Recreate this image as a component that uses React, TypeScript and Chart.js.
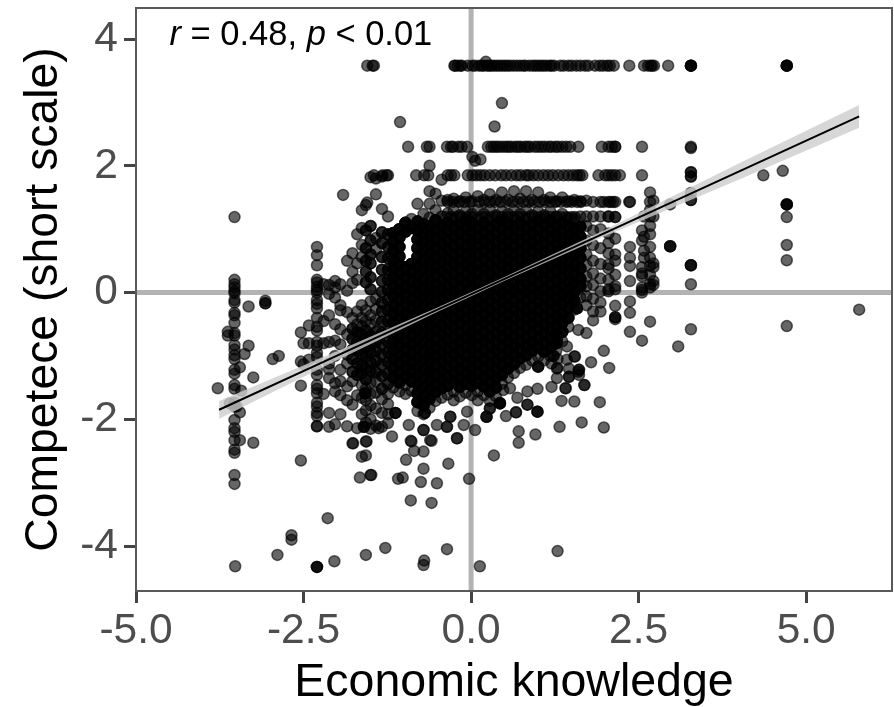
import React, { useEffect, useRef } from "react";
import { Chart, registerables } from "chart.js";

Chart.register(...registerables);

const X_TICK_STEP = 2.5;
const Y_TICK_STEP = 2;
const X_TITLE = "Economic knowledge";
const Y_TITLE = "Competece (short scale)";

// Columns: first number is x, the rest are y values at that x.
const farLeftColumns: number[][] = [
  [-3.53, .2, .13, .08, .02, -.01, -.12, -.16, -.32, -.36, -.48, -.64, -.68, -.83, -.9, -.99, -1.05, -1.22, -1.28, -1.46, -1.52, -1.74, -1.8, -2.01, -2.14, -2.2, -2.33, -2.48, -2.53, -2.88, -3.02, 1.19],
  [-3.32, -.22, -.84], [-3.07, -.17, -.17, -.13], [-3.63, -.62, -.68], [-3.38, -.97], [-2.96, -1.05], [-2.87, -1.0],
  [-3.45, -1.18, -1.89, -2.33], [-3.43, -1.55], [-3.25, -1.34, -2.37], [-3.78, -1.51], [-3.6, -1.75], [-3.5, -1.8],
  [-2.3, .72, .59, .43, .2, .16, .09, .04, 0, -.12, -.18, -.25, -.4, -.54, -.6, -.78, -.84, -.95, -1.02, -1.22, -1.3, -1.46, -1.52, -1.59, -1.74, -1.8, -1.9, -1.95, -2.11, -2.11],
  [-2.54, -.63, -1.09, -1.47, -2.65], [-2.5, -.8, -1.13], [-2.42, -1.06, -.8, -.52], [-2.2, -.8, -.45, .13, -1.6],
];

const leftColumns: number[][] = [
  [-2.12, .12, -.02, -.36, -.78, -1.12, -1.21, -1.35, -1.9, -2.12], [-2.03, .08, .18, -.08, -.5, -.76, -1.0, -1.43, -1.56, -2.08],
  [-1.95, .13, -.2, -.28, -.58, -.82, -1.22, -1.4, -1.62, -1.92], [-1.85, .5, .03, -.31, -.66, -.98, -1.12, -1.48, -1.7, -2.11],
  [-1.77, 0.15, .62, .33, -.4, -.57, -.73, -.9, -1.05, -1.25, -1.4, -1.77, -2.38], [-1.7, .92, .46, .2, -.3, -.5, -.63, -.78, -.92, -1.12, -1.3, -1.62, -2.14],
  [-1.63, 1.3, 1.02, .75, .56, -.2, -.4, -.53, -.66, -.8, -.97, -1.15, -1.28, -1.46, -1.66, -1.92, -2.59],
  [-1.57, 1.38, .98, .7, .5, .33, .16, -.28, -.45, -.6, -.72, -.86, -1.02, -1.2, -1.37, -1.52, -1.7, -1.86, -2.05, -2.35, -2.57],
  [-1.5, 1.82, 1.05, .82, .6, .46, .24, .05, -.14, -.36, -.5, -.68, -.82, -.94, -1.1, -1.24, -1.42, -1.6, -1.78, -2.0, -2.15, -2.88],
  [-1.42, 1.8, 1.55, .86, .68, -.1, -.26, -.44, -.62, -.78, -.92, -1.08, -1.26, -1.4, -1.58, -1.83, -2.1],
  [-1.33, 1.83, 1.32, .95, .78, .56, .36, .18, .01, -.16, -.3, -.46, -.64, -.82, -.98, -1.14, -1.32, -1.52, -1.68, -1.9, -2.12],
  [-1.24, 1.85, 1.2, .92, .72, .54, .36, .2, .04, -.12, -.28, -.45, -.62, -.78, -.94, -1.1, -1.28, -1.44, -1.6, -1.76, -1.92, -2.06],
];

const coreColumns: number[][] = [
  [-1.16, .94, .8, .66, .52, .37, .24, .1, -.05, -.2, -.33, -.47, -.63, -.77, -.92, -1.06, -1.2, -1.34, -1.5, -1.63, -1.78, -1.93],
  [-1.07, 1.0, .87, .72, .57, .44, .29, .15, .02, -.13, -.28, -.41, -.55, -.7, -.84, -.99, -1.13, -1.27, -1.42, -1.56, -1.7, -1.84, -2.0],
  [-.98, 1.1, .96, .4, .25, .1, -.03, -.17, -.32, -.46, -.6, -.75, -.89, -1.03, -1.17, -1.32, -1.46, -1.6, -1.74, -1.88],
  [-.89, 1.16, 1.02, .45, .31, .16, .03, -.12, -.26, -.4, -.55, -.69, -.83, -.98, -1.12, -1.26, -1.4, -1.55, -1.69, -1.83, -1.97, -2.1],
  [-.8, 1.4, 1.12, .98, .84, .7, .56, .41, .27, .13, -.02, -.16, -.3, -.45, -.59, -.73, -.87, -1.02, -1.16, -1.3, -1.44, -1.59, -1.73, -1.87, -2.0],
  [-.71, 1.24, 1.08, .94, .8, .65, .51, .37, .22, .08, -.06, -.21, -.35, -.49, -.64, -.78, -.92, -1.06, -1.21, -1.35, -1.49, -1.64, -1.78, -1.92, -2.06, -2.18],
  [-.62, 1.6, 1.4, 1.18, 1.04, .9, .75, .61, .47, .33, .18, .04, -.1, -.25, -.39, -.53, -.67, -.82, -.96, -1.1, -1.25, -1.39, -1.53, -1.68, -1.82, -1.96, -2.1],
  [-.53, 1.56, 1.3, 1.14, 1.0, .86, .72, .57, .43, .29, .14, 0, -.14, -.28, -.43, -.57, -.71, -.86, -1.0, -1.14, -1.29, -1.43, -1.57, -1.71, -1.86, -2.0, -2.14],
  [-.44, 1.78, 1.45, 1.2, 1.06, .92, .77, .63, .49, .35, .2, .06, -.08, -.23, -.37, -.51, -.66, -.8, -.94, -1.08, -1.23, -1.37, -1.51, -1.66, -1.8, -1.94, -2.08, -2.22],
  [-.35, 1.46, 1.25, 1.1, .96, .82, .67, .53, .39, .25, .1, -.04, -.18, -.33, -.47, -.61, -.76, -.9, -1.04, -1.19, -1.33, -1.47, -1.61, -1.76, -1.9, -2.04, -2.16],
  [-.26, 1.48, 1.3, 1.16, 1.02, .88, .73, .59, .45, .3, .16, .02, -.12, -.27, -.41, -.55, -.7, -.84, -.98, -1.13, -1.27, -1.41, -1.56, -1.7, -1.84, -1.98, -2.12, -2.2],
  [-.17, 1.44, 1.22, 1.08, .94, .8, .65, .51, .37, .22, .08, -.06, -.21, -.35, -.49, -.64, -.78, -.92, -1.06, -1.21, -1.35, -1.49, -1.64, -1.78, -1.92, -2.06, -2.14],
  [-.08, 1.5, 1.28, 1.14, 1.0, .85, .71, .57, .42, .28, .14, -.01, -.15, -.29, -.43, -.58, -.72, -.86, -1.01, -1.15, -1.29, -1.44, -1.58, -1.72, -1.87, -2.01, -2.18],
  [.01, 1.44, 1.24, 1.1, .96, .82, .67, .53, .39, .24, .1, -.04, -.19, -.33, -.47, -.62, -.76, -.9, -1.05, -1.19, -1.33, -1.47, -1.62, -1.76, -1.9, -2.05],
  [.1, 1.52, 1.3, 1.16, 1.02, .87, .73, .59, .44, .3, .16, .01, -.13, -.27, -.42, -.56, -.7, -.84, -.99, -1.13, -1.27, -1.42, -1.56, -1.7, -1.85, -1.99],
  [.19, 1.46, 1.24, 1.1, .95, .81, .67, .53, .38, .24, .1, -.05, -.19, -.33, -.48, -.62, -.76, -.91, -1.05, -1.19, -1.33, -1.48, -1.62, -1.76, -1.91],
  [.28, 1.55, 1.3, 1.15, 1.01, .87, .73, .58, .44, .3, .15, .01, -.13, -.28, -.42, -.56, -.71, -.85, -.99, -1.13, -1.28, -1.42, -1.56, -1.71, -1.85, -1.98],
  [.37, 1.46, 1.22, 1.08, .94, .79, .65, .51, .36, .22, .08, -.07, -.21, -.35, -.49, -.64, -.78, -.92, -1.07, -1.21, -1.35, -1.5, -1.64, -1.78, -1.93],
  [.46, 1.58, 1.28, 1.14, 1.0, .85, .71, .57, .42, .28, .14, -.01, -.15, -.29, -.44, -.58, -.72, -.87, -1.01, -1.15, -1.3, -1.44, -1.58, -1.74, -1.9],
  [.55, 1.46, 1.24, 1.09, .95, .81, .66, .52, .38, .24, .09, -.05, -.19, -.34, -.48, -.62, -.77, -.91, -1.05, -1.2, -1.34, -1.48, -1.63, -1.8],
  [.64, 1.6, 1.3, 1.16, 1.02, .87, .73, .59, .45, .3, .16, .02, -.13, -.27, -.41, -.56, -.7, -.84, -.99, -1.13, -1.27, -1.42, -1.56, -1.72],
  [.73, 1.48, 1.24, 1.1, .96, .82, .67, .53, .39, .24, .1, -.04, -.19, -.33, -.47, -.62, -.76, -.9, -1.04, -1.19, -1.33, -1.47, -1.63],
  [.82, 1.6, 1.3, 1.16, 1.01, .87, .73, .58, .44, .3, .15, .01, -.13, -.28, -.42, -.56, -.71, -.85, -.99, -1.14, -1.28, -1.42, -1.56],
  [.91, 1.46, 1.22, 1.08, .94, .79, .65, .51, .37, .22, .08, -.06, -.21, -.35, -.49, -.64, -.78, -.92, -1.07, -1.21, -1.35, -1.46],
  [1.0, 1.58, 1.28, 1.14, .99, .85, .71, .56, .42, .28, .13, -.01, -.15, -.3, -.44, -.58, -.73, -.87, -1.01, -1.16, -1.3],
  [1.09, 1.46, 1.22, 1.08, .93, .79, .65, .5, .36, .22, .07, -.07, -.21, -.36, -.5, -.64, -.79, -.93, -1.07, -1.2],
  [1.18, 1.5, 1.28, 1.13, .99, .85, .7, .56, .42, .27, .13, -.01, -.16, -.3, -.44, -.59, -.73, -.87, -1.0],
  [1.27, 1.44, 1.2, 1.06, .92, .77, .63, .49, .34, .2, .06, -.09, -.23, -.37, -.52, -.66, -.8, -.92],
  [1.36, 1.5, 1.24, 1.1, .95, .81, .67, .52, .38, .24, .09, -.05, -.19, -.34, -.48, -.62, -.77],
  [1.45, 1.44, 1.18, 1.04, .89, .75, .61, .46, .32, .18, .03, -.11, -.25, -.4, -.54, -.68],
  [1.54, 1.46, 1.16, 1.02, .87, .73, .59, .44, .3, .16, .01, -.13, -.27, -.42],
  [1.63, 1.44, 1.2, 1.04, .88, .7, .55, .38, .22, .1, -.08, -.24],
];

// Lowest y of the solid part of each core column, same order as coreColumns.
const coreFloors = [-1.6, -1.65, -1.6, -1.65, -1.9, -2.0, -1.95, -1.8, -1.7, -1.7, -1.7, -1.7, -1.65, -1.65, -1.7, -1.75, -1.8, -1.7, -1.55, -1.45, -1.4, -1.3, -1.25, -1.2, -1.15, -1.1, -1.05, -1.0, -.8, -.55, -.35, -.2];

// Individually read marks around the lower and right edge of the cloud.
const fringePoints: number[][] = [
  [-1.76, -2.38], [-1.56, -2.35], [-1.38, -2.14], [-1.18, -2.27], [-.93, -2.09], [-.89, -2.35], [-.61, -2.33], [-.21, -2.3], [-.06, -1.88], [.06, -2.17],
  [.48, -1.54], [.58, -1.51], [1.28, -1.2], [1.43, -1.06], [1.55, -1.01], [1.6, -1.25], [1.6, -.59],
  [.23, -1.96], [.23, -1.96], [.23, -1.96], [.28, -1.83], [.28, -1.83], [.43, -1.75], [.43, -1.75], [.43, -1.75], [1.0, -1.17], [1.0, -1.17], [1.0, -1.17],
  [1.28, -.75], [1.28, -.75], [1.43, -.85], [1.23, -1.0], [1.23, -1.0], [-.71, -2.17], [-.71, -2.17], [-.31, -1.96], [-.31, -1.96], [-.36, -2.12], [-.36, -2.12],
  [-.11, -2.09], [-1.6, -2.12], [-1.6, -2.12], [-1.6, -2.12], [-1.13, -1.9], [-1.13, -1.9], [-1.13, -1.9], [-.69, -1.9], [-.69, -1.9], [-.51, -2.09],
  [-1.58, -1.59], [-1.58, -1.59], [-1.58, -1.59], [1.58, -.25], [1.58, -.25], [1.58, -.25],
];

const rightColumns: number[][] = [
  [1.72, 1.45, 1.2, 1.05, .82, .6, .43, .25, .1, -.06, -.2, -.64], [1.82, 1.43, 1.2, .98, .75, .5, .3, .12, -.1, -.3, -.44],
  [1.93, 1.43, 1.2, 1.0, .7, .45, .22, .02, -.16, -.3], [2.05, 1.43, 1.2, 1.2, .93, .78, .62, .44, .38, .2, .05, .02],
  [2.15, 1.43, 1.19, 1.19, .85, .6, .5, .28, .1, .05, -.21, -.39, -.39, -.42],
  [2.37, 1.43, .72, .55, .42, .18, -.14, -.32, -.62], [2.58, 1.2, .88, .66, .55], [2.67, 1.58, 1.43, 1.3, 1.2, 1.05, .92, .72, .55, .42, .28, .13, .08, -.46],
  [2.55, .98, .82, .4, .3, .26, .08, .04, .0, -.76], [2.72, 1.45, 1.2, .46, .4, .18, .12], [2.97, .73, .73, .73, 1.39], [3.28, 2.28, 1.9, 1.9, 1.83, 1.83, 1.57, 1.46, 1.46, .43, .43, .43, .13, -.58],
  [4.71, 3.58, 3.58, 3.58, 3.58, 1.39, 1.39, 1.39, 1.39, 1.19, .75, .51, -.53], [4.36, 1.85], [4.65, 1.92], [5.79, -.27], [3.09, -.85],
  [2.06, -1.19], [1.98, -.92, -2.13], [1.79, -1.1], [1.92, -1.73], [1.69, -1.46, -1.46], [1.65, -2.05], [1.61, -1.22, -1.22, -1.3],
  [1.54, -1.01, -1.72], [1.46, -1.33, -1.33, -1.2], [1.41, -1.51, -1.51], [1.35, -1.71], [1.32, -2.12], [1.29, -1.19, -1.05, -4.08], [1.28, -1.35], [1.2, -1.49, -1.12],
  [.99, -1.52, -1.88, -1.88, -1.88], [.96, -2.24], [.84, -1.77, -1.77, -1.56], [.71, -2.19, -2.37], [.69, -1.66], [.67, -1.89, -1.89], [.52, -1.95],
  [.43, -1.74], [.34, -2.57],
];

const lowerPoints: number[][] = [
  [-3.52, -4.32], [-2.89, -4.14], [-2.68, -3.83, -3.9], [-2.14, -3.56], [-2.3, -4.33, -4.33, -4.33], [-2.04, -4.24], [-1.57, -4.14], [-1.28, -4.03],
  [-.7, -4.23], [-.71, -4.3, -2.78, -2.51], [-.36, -4.05], [.13, -4.32], [-1.66, -2.92], [-1.49, -2.88], [-1.09, -2.94], [-1.02, -2.92], [-.9, -3.28, -2.34],
  [-.59, -3.32, -2.34], [-.75, -2.99], [-.51, -3.01], [-.03, -2.94], [-.34, -2.7], [-.97, -2.64], [-.85, -2.5], [-.21, -2.3],
];

const topRowY = 3.58;
const topRowX = [-1.55, -1.47, -1.45, -.25, -.24, -.2, -.16, -.14, -.05, .02, .06, .12, .16, .19, .24, .27, .3, .34, .38, .42, .46, .5, .54, .58, .63, .68, .73, .78, .81, .87, .92, .96, 1.0, 1.04, 1.08, 1.12, 1.17, 1.2, 1.24, 1.33, 1.38, 1.45, 1.5, 1.57, 1.63, 1.7, 1.75, 1.85, 1.92, 1.97, 2.03, 2.07, 2.13, 2.36, 2.58, 2.64, 2.68, 2.7, 2.73, 2.94, 3.28, 3.28, 3.28, 3.28];
const extraUpper: number[][] = [[.22, 3.64], [.46, 2.99], [.35, 2.62], [-1.06, 2.69], [-1.91, 1.54], [-1.55, 1.42], [.14, 2.1], [.06, 2.08], [-.62, 2.0], [.02, 2.14]];

const row230Y = 2.3;
const row230X = [-.94, -.66, -.62, -.36, -.3, -.27, -.19, -.14, -.06, .25, .3, .34, .38, .42, .47, .52, .56, .6, .66, .7, .74, .8, .84, .88, .95, 1.0, 1.05, 1.1, 1.16, 1.2, 1.26, 1.3, 1.36, 1.42, 1.48, 1.6, 1.95, 2.05, 2.1, 2.15, 2.15, 2.55, 3.28];
const row185Y = 1.85;
const row185X = [-1.45, -1.32, -1.26, -.82, -.7, -.64, -.35, -.3, -.25, -.05, .02, .08, .14, .2, .28, .36, .45, .52, .6, .68, .74, .82, .86, .93, 1.0, 1.08, 1.15, 1.22, 1.3, 1.38, 1.45, 1.52, 1.58, 1.62, 1.66, 1.9, 2.0, 2.05, 2.1, 2.15, 2.22, 2.55];
const row143Y = 1.43;
const row143X = [-.35, -.27, -.18, -.1, -.02, .12, .2, .28, .36, .44, .52, .62, .7, .78, .86, .94, 1.02, 1.1, 1.18, 1.26, 1.34, 1.42, 1.5, 1.58, 1.64, 1.98, 2.08, 2.12, 2.36];
const row119Y = 1.19;
const row119X = [-.38, -.3, -.22, -.14, -.06, .02, .14, .22, .3, .38, .46, .54, .62, .7, .78, .86, .94, 1.02, 1.1, 1.18, 1.26, 1.34, 1.42, 1.5, 1.55];

const fitX = [-3.76, -2, -.5, .5, 2, 4, 5.79];
const fitY = [-1.85, -.997, -.27, .215, .942, 1.912, 2.78];
const fitLow = [-1.99, -1.067, -.305, .185, .892, 1.782, 2.6];
const fitHigh = [-1.71, -.927, -.235, .245, .992, 2.042, 2.96];

const xMin = -5;
const xMax = 6.28;
const yMin = -4.71;
const yMax = 4.49;

const columnsToPoints = (cols: number[][]) =>
  cols.flatMap(([x, ...ys]) => ys.map((y) => ({ x, y })));
const rowToPoints = (y: number, xs: number[]) => xs.map((x) => ({ x, y }));
const zip = (xs: number[], ys: number[]) => xs.map((x, i) => ({ x, y: ys[i] }));

// Overplotted cases: the centre of the cloud holds many cases at the same spot.
const coreTrimmed = coreColumns.map(([x, ...ys], i) => [x, ...ys.filter((y) => y >= coreFloors[i])]);
const corePoints = columnsToPoints(coreTrimmed);
const coreRepeat = coreTrimmed.flatMap(([x, ...ys], i) =>
  x < 1.65 ? ys.filter((y) => y >= coreFloors[i] + 0.15 && y < 1.15).map((y) => ({ x, y })) : [],
);
const leftPoints = columnsToPoints(leftColumns);
const leftRepeat = leftPoints.filter(
  (p) =>
    (p.y > -1.4 && p.y < -.55 && p.x > -1.8) ||
    (p.x >= -1.33 && p.y > -1.6 && p.y < 1.0) ||
    (p.x > -1.6 && p.x < -1.45 && p.y > 0 && p.y < 1.1),
);

const allPoints = [
  ...rowToPoints(topRowY, topRowX),
  ...columnsToPoints(extraUpper),
  ...rowToPoints(row230Y, row230X),
  ...rowToPoints(row185Y, row185X),
  ...rowToPoints(row143Y, row143X),
  ...rowToPoints(row119Y, row119X),
  ...columnsToPoints(farLeftColumns),
  ...leftPoints,
  ...leftRepeat,
  ...columnsToPoints(rightColumns),
  ...columnsToPoints(lowerPoints),
  ...columnsToPoints(fringePoints),
  ...corePoints,
  ...coreRepeat,
  ...coreRepeat,
  ...coreRepeat,
];

const annotationPlugin = {
  id: "panelAndLabel",
  afterDatasetsDraw(chart: any) {
    const { ctx, chartArea: a, scales } = chart;
    ctx.save();
    ctx.strokeStyle = "#5a5a5a";
    ctx.lineWidth = 2;
    ctx.strokeRect(a.left, a.top, a.right - a.left, a.bottom - a.top);
    ctx.fillStyle = "#000000";
    ctx.textBaseline = "alphabetic";
    let x = scales.x.getPixelForValue(-4.5);
    const y = scales.y.getPixelForValue(3.9);
    const parts: [string, boolean][] = [["r", true], [" = 0.48, ", false], ["p", true], [" < 0.01", false]];
    for (const [text, italic] of parts) {
      ctx.font = `${italic ? "italic " : ""}34.5px "Liberation Sans"`;
      ctx.fillText(text, x, y);
      x += ctx.measureText(text).width;
    }
    ctx.restore();
  },
};

export default function App() {
  const ref = useRef<HTMLCanvasElement>(null);
  useEffect(() => {
    document.body.style.margin = "0";
    document.body.style.background = "#ffffff";
    const refLine = {
      type: "scatter",
      showLine: true,
      borderColor: "#b3b3b3",
      borderWidth: 5,
      pointRadius: 0,
      order: 4,
    };
    const chart = new Chart(ref.current!, {
      type: "scatter",
      data: {
        datasets: [
          { ...refLine, data: [{ x: xMin, y: 0 }, { x: xMax, y: 0 }] },
          { ...refLine, data: [{ x: 0, y: yMin }, { x: 0, y: yMax }] },
          {
            data: allPoints,
            backgroundColor: "rgba(0,0,0,0.6)",
            borderColor: "rgba(0,0,0,0.6)",
            borderWidth: 1.5,
            pointRadius: 5.5,
            order: 3,
          },
          {
            data: zip(fitX, fitHigh),
            showLine: true,
            pointRadius: 0,
            borderWidth: 0,
            fill: "+1",
            backgroundColor: "rgba(205,205,205,0.8)",
            order: 2,
          },
          { data: zip(fitX, fitLow), showLine: true, pointRadius: 0, borderWidth: 0, order: 2 },
          { data: zip(fitX, fitY), showLine: true, pointRadius: 0, borderColor: "#000000", borderWidth: 2, order: 1 },
        ] as any,
      },
      options: {
        responsive: false,
        animation: false,
        events: [],
        layout: { autoPadding: false, padding: { top: 8, right: 2, left: 0, bottom: 0 } },
        plugins: { legend: { display: false }, tooltip: { enabled: false } },
        scales: {
          x: {
            type: "linear",
            min: xMin,
            max: xMax,
            afterFit: (s: any) => { s.height = 116; s.paddingLeft = 0; s.paddingRight = 0; },
            border: { display: false },
            grid: { drawOnChartArea: false, drawTicks: true, tickLength: 12, tickColor: "#444444", tickWidth: 3 },
            ticks: {
              stepSize: X_TICK_STEP,
              includeBounds: false,
              maxRotation: 0,
              padding: 3,
              color: "#4d4d4d",
              font: { family: "Liberation Sans", size: 42.5 },
              callback: (v: any) => Number(v).toFixed(1),
            },
            title: { display: true, text: X_TITLE, color: "#000000", font: { family: "Liberation Sans", size: 46.5 }, padding: { top: 0, bottom: -4 } },
          },
          y: {
            type: "linear",
            min: yMin,
            max: yMax,
            afterFit: (s: any) => { s.width = 136; s.paddingTop = 0; s.paddingBottom = 0; },
            border: { display: false },
            grid: { drawOnChartArea: false, drawTicks: true, tickLength: 12, tickColor: "#444444", tickWidth: 3 },
            ticks: {
              stepSize: Y_TICK_STEP,
              includeBounds: false,
              padding: 6,
              color: "#4d4d4d",
              font: { family: "Liberation Sans", size: 42.5 },
              callback: (v: any) => String(v),
            },
            title: { display: true, text: Y_TITLE, color: "#000000", font: { family: "Liberation Sans", size: 46.3 }, padding: { top: 16, bottom: 0 } },
          },
        },
      } as any,
      plugins: [annotationPlugin],
    });
    return () => chart.destroy();
  }, []);
  return <canvas ref={ref} width={894} height={707} style={{ display: "block" }} />;
}
